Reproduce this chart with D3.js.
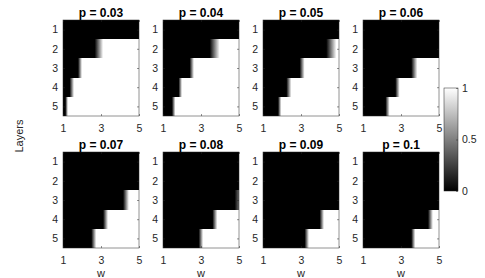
<!DOCTYPE html>
<html>
<head>
<meta charset="utf-8">
<script src="https://cdn.jsdelivr.net/npm/d3@7"></script>
<style>
body { margin: 0; background: #fff; }
svg { display: block; font-family: "Liberation Sans", Arial, sans-serif; }
</style>
</head>
<body>
<svg id="chart" width="485" height="278"></svg>
<script>
// panel titles
var pValues = ["0.03", "0.04", "0.05", "0.06", "0.07", "0.08", "0.09", "0.1"];
var layers = [1, 2, 3, 4, 5];
var wTicks = [1, 3, 5];
var cbarTicks = [0, 0.5, 1];

// w where each layer starts going from 0 (black) to 1 (white), null = black everywhere
var rampStart = [
	[null, 2.67, 1.79, 1.35, 1.12],
	[null, 3.46, 2.40, 1.82, 1.47],
	[null, 4.33, 2.93, 2.23, 1.79],
	[null, null, 3.54, 2.70, 2.18],
	[null, null, 4.16, 3.11, 2.49],
	[null, null, 4.77, 3.60, 2.88],
	[null, null, null, 3.98, 3.19],
	[null, null, null, 4.42, 3.54]
];
// w where the same layer is fully white
var rampEnd = [
	[null, 3.11, 2.00, 1.58, 1.26],
	[null, 3.98, 2.63, 2.00, 1.65],
	[null, 4.86, 3.19, 2.49, 1.96],
	[null, null, 3.86, 2.93, 2.40],
	[null, null, 4.47, 3.37, 2.75],
	[null, null, 5.30, 3.86, 3.11],
	[null, null, null, 4.21, 3.42],
	[null, null, null, 4.68, 3.75]
];

var PANEL_W = 76;
var PANEL_H = 96;
var LEFT_MARGIN = 63;
var COL_STEP = 100;
var ROW_TOPS = [20, 152];
var AX_COLOR = "#262626";
var FONT = 10.5;

var svg = d3.select("#chart");
var defs = svg.append("defs");

var x = d3.scaleLinear().domain([1, 5]).range([0, PANEL_W]);
var y = d3.scaleLinear().domain([0.5, 5.5]).range([0, PANEL_H]);
var fmt = function(d) { return d; };

function styleAxis(g)
{
	g.attr("font-family", null).attr("font-size", FONT);
	g.select(".domain").remove();
	g.selectAll("line").attr("stroke", AX_COLOR).attr("stroke-width", 0.5);
	g.selectAll("text").attr("fill", AX_COLOR);
}

pValues.forEach(function(p, i) {
	var x0 = LEFT_MARGIN + COL_STEP * (i % 4);
	var y0 = ROW_TOPS[Math.floor(i / 4)];
	var panel = svg.append("g").attr("transform", "translate(" + x0 + "," + y0 + ")");

	layers.forEach(function(l, j) {
		var fill = "#000";
		if( rampStart[i][j] !== null )
		{
			var id = "ramp" + i + "_" + j;
			var grad = defs.append("linearGradient")
				.attr("id", id)
				.attr("gradientUnits", "userSpaceOnUse")
				.attr("x1", x(rampStart[i][j])).attr("x2", x(rampEnd[i][j]))
				.attr("y1", 0).attr("y2", 0);
			grad.append("stop").attr("offset", 0).attr("stop-color", "#000");
			grad.append("stop").attr("offset", 1).attr("stop-color", "#fff");
			fill = "url(#" + id + ")";
		}
		panel.append("rect")
			.attr("x", 0)
			.attr("y", y(l - 0.5))
			.attr("width", PANEL_W)
			.attr("height", y(l + 0.5) - y(l - 0.5))
			.attr("fill", fill)
			.attr("shape-rendering", "crispEdges");
	});

	panel.append("g").attr("transform", "translate(0," + PANEL_H + ")")
		.call(d3.axisBottom(x).tickValues(wTicks).tickSize(-2).tickSizeOuter(0).tickPadding(9).tickFormat(fmt))
		.call(styleAxis);
	panel.append("g")
		.call(d3.axisTop(x).tickValues(wTicks).tickSize(-2).tickSizeOuter(0).tickFormat(""))
		.call(styleAxis);
	panel.append("g")
		.call(d3.axisLeft(y).tickValues(layers).tickSize(-2).tickSizeOuter(0).tickPadding(5).tickFormat(fmt))
		.call(styleAxis);
	panel.append("g").attr("transform", "translate(" + PANEL_W + ",0)")
		.call(d3.axisRight(y).tickValues(layers).tickSize(-2).tickSizeOuter(0).tickFormat(""))
		.call(styleAxis);

	panel.append("rect")
		.attr("width", PANEL_W).attr("height", PANEL_H)
		.attr("fill", "none")
		.attr("stroke", AX_COLOR)
		.attr("stroke-width", 0.5);

	panel.append("text")
		.attr("x", PANEL_W / 2).attr("y", -3)
		.attr("text-anchor", "middle")
		.attr("font-size", 12)
		.attr("font-weight", "bold")
		.attr("fill", "#000")
		.text("p = " + p);

	// x label only under the bottom row, sits at the bottom edge
	if( i >= 4 )
	{
		panel.append("text")
			.attr("x", PANEL_W / 2).attr("y", PANEL_H + 29)
			.attr("text-anchor", "middle")
			.attr("font-size", 11)
			.attr("fill", AX_COLOR)
			.text("w");
	}
});

svg.append("text")
	.attr("transform", "translate(23,136) rotate(-90)")
	.attr("text-anchor", "middle")
	.attr("font-size", 11)
	.attr("fill", AX_COLOR)
	.text("Layers");

// colorbar
var CB_X = 444, CB_W = 14, CB_TOP = 88, CB_BOTTOM = 191;
var cb = d3.scaleLinear().domain([0, 1]).range([CB_BOTTOM, CB_TOP]);
var cbGrad = defs.append("linearGradient")
	.attr("id", "cbar")
	.attr("x1", 0).attr("x2", 0).attr("y1", 1).attr("y2", 0);
cbGrad.append("stop").attr("offset", 0).attr("stop-color", "#000");
cbGrad.append("stop").attr("offset", 1).attr("stop-color", "#fff");

svg.append("rect")
	.attr("x", CB_X).attr("y", CB_TOP)
	.attr("width", CB_W).attr("height", CB_BOTTOM - CB_TOP)
	.attr("fill", "url(#cbar)")
	.attr("stroke", AX_COLOR)
	.attr("stroke-width", 0.5);

svg.append("g").attr("transform", "translate(" + (CB_X + CB_W) + ",0)")
	.call(d3.axisRight(cb).tickValues(cbarTicks).tickSize(-2).tickSizeOuter(0).tickPadding(4).tickFormat(fmt))
	.call(styleAxis);
</script>
</body>
</html>
